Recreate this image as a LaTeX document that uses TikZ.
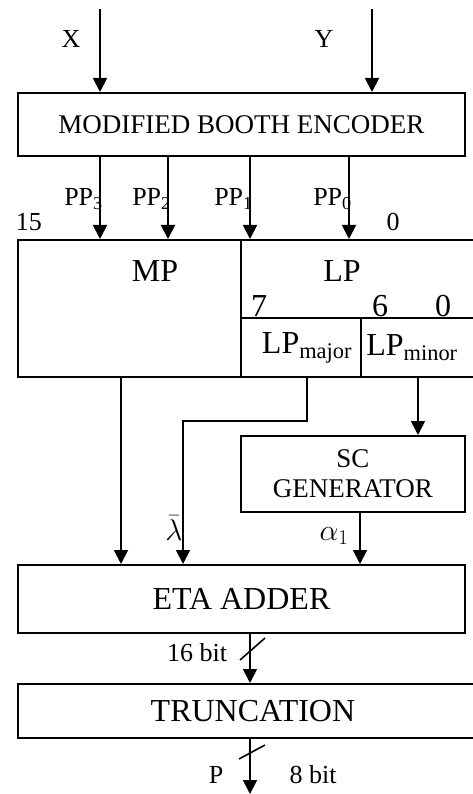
\RequirePackage{fix-cm}
\documentclass[tikz,border=0pt]{standalone}
\usepackage{fontspec}
\setmainfont{Liberation Serif}
\usetikzlibrary{arrows.meta,positioning}

\begin{document}
\begin{tikzpicture}[
    x=1pt, y=-1pt,
    box/.style={draw, line width=1.9pt, inner sep=0pt, anchor=north west},
    big/.style={font=\fontsize{32}{34}\selectfont},
    mid/.style={font=\fontsize{27}{30}\selectfont},
    small/.style={font=\fontsize{26}{28}\selectfont},
    greek/.style={font=\fontsize{30}{32}\selectfont},
    sig/.style={-{Triangle[length=14pt,width=14pt]}, line width=1.9pt},
    wire/.style={line width=1.6pt}
]
\clip (0,0) rectangle (473,794);

% blocks
\node[box, minimum width=447pt, minimum height=63pt, mid] (enc) at (17,92) {MODIFIED BOOTH ENCODER};
\node[box, minimum width=223pt, minimum height=137pt] (mp) at (17,239) {};
\node[box, minimum width=250pt, minimum height=78pt] (lp) at (240,239) {};
\node[box, minimum width=120pt, minimum height=59pt] (lpmaj) at (240,317) {};
\node[box, minimum width=130pt, minimum height=59pt] (lpmin) at (360,317) {};
\node[box, minimum width=224pt, minimum height=76pt, mid, align=center] (scgen) at (240,435) {SC\\GENERATOR};
\node[box, minimum width=447pt, minimum height=68pt, big] (eta) at (17,564) {ETA ADDER};
\node[box, minimum width=470pt, minimum height=54pt, big] (trunc) at (17,683) {TRUNCATION};

% register texts
\node[big] (mptxt) at (155,271) {MP};
\node[big] (lptxt) at (342,271) {LP};
\node[big] (b7) at (259,306) {7};
\node[big] (b6) at (380,306) {6};
\node[big] (b0) at (443,306) {0};
\node[big] (majtxt) at (307,348) {LP\textsubscript{major}};
\node[big] (mintxt) at (412,348) {LP\textsubscript{minor}};
\node[small] (b15) at (29,222) {15};
\node[small] (b0top) at (393,222) {0};

% inputs
\coordinate (xin) at (100,9);
\coordinate (yin) at (372,9);
\draw[sig] (xin) -- (xin |- enc.north);
\draw[sig] (yin) -- (yin |- enc.north);
\node[small] (xlbl) at (71,39) {X};
\node[small] (ylbl) at (324,39) {Y};

% partial products
\foreach \px/\nm/\ix in {100/pp3/3, 168/pp2/2, 250/pp1/1, 349/pp0/0} {
  \coordinate (\nm) at (\px,155);
  \draw[sig] (\nm) -- (\nm |- mp.north);
  \node[small, anchor=base east, inner sep=0pt] at ([xshift=3pt]\nm |- 0,206) {PP\textsubscript{\ix}};
}

% to the adder
\coordinate (mpout) at (121,376);
\draw[sig] (mpout) -- (mpout |- eta.north);
\coordinate (majout) at (307,376);
\coordinate (lam) at (183,421);
\draw[sig] (majout) |- (lam) -- (lam |- eta.north);
\coordinate (minout) at (418,376);
\draw[sig] (minout) -- (minout |- scgen.north);
\coordinate (alpha) at (360,511);
\draw[sig] (alpha) -- (alpha |- eta.north);
\node[greek, inner sep=0pt, anchor=base] (lamlbl) at (174,540) {$\bar{\lambda}$};
\node[greek, inner sep=0pt, anchor=base] (alphalbl) at (334,540) {$\alpha_1$};

% outputs
\coordinate (sum) at (250,632);
\draw[sig] (sum) -- (sum |- trunc.north);
\draw[wire] ([shift={(-10,9)}]sum |- 0,651) -- ([shift={(15,-13)}]sum |- 0,651);
\node[small] (w16) at (197,653) {16 bit};
\coordinate (prod) at (250,737);
\draw[sig] (prod) -- (prod |- 0,794);
\draw[wire] ([shift={(-11,7)}]prod |- 0,752) -- ([shift={(15,-7)}]prod |- 0,752);
\node[small] (plbl) at (216,775) {P};
\node[small] (w8) at (313,775) {8 bit};
\end{tikzpicture}
\end{document}
